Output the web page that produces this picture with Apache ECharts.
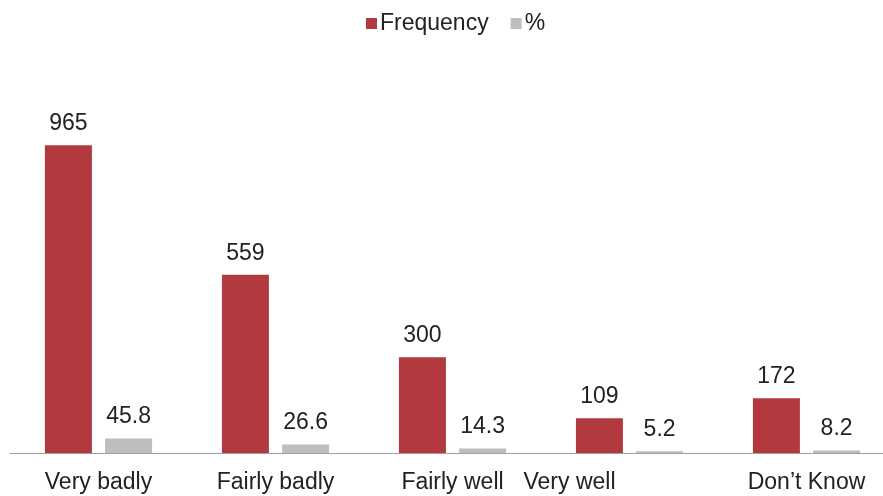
<!DOCTYPE html>
<html><head><meta charset="utf-8">
<script src="https://cdn.jsdelivr.net/npm/echarts@6/dist/echarts.min.js"></script>
<style>html,body{margin:0;padding:0;background:#fff}#c{width:883px;height:496px}</style>
</head><body><div id="c"></div>
<script>
const categories = ['Very badly', 'Fairly badly', 'Fairly well', 'Very well', 'Don\u2019t Know'];
const frequency = [965, 559, 300, 109, 172];
const percent = [45.8, 26.6, 14.3, 5.2, 8.2];
const seriesNames = ['Frequency', '%'];

const chart = echarts.init(document.getElementById('c'));
const font = 'Liberation Sans';
chart.setOption({
  animation: false,
  textStyle: { fontFamily: font },
  legend: {
    top: 7, left: 361, itemWidth: 11, itemHeight: 11, itemGap: 22,
    icon: 'rect',
    textStyle: { fontSize: 23, color: '#222', fontFamily: font, padding: [0, 0, 0, -2] },
    data: seriesNames
  },
  grid: { left: 10, width: 885, top: 134, bottom: 43, outerBoundsMode: 'none', containLabel: false },
  xAxis: {
    type: 'category', data: categories,
    axisLine: { lineStyle: { color: '#a0a0a0', width: 1 } },
    axisTick: { show: false },
    axisLabel: {
      fontSize: 23, color: '#222', margin: 18, fontFamily: font,
      formatter: function (v) { return v === 'Very well' ? '{s|' + v + '}' : v; },
      rich: { s: { fontSize: 23, color: '#222', fontFamily: font, padding: [0, 120, 0, 0] } }
    }
  },
  yAxis: { type: 'value', min: 0, max: 1000, show: false, splitLine: { show: false } },
  series: [
    { name: seriesNames[0], type: 'bar', data: frequency, barWidth: 47, barGap: '28%',
      itemStyle: { color: '#B23A3E' },
      label: { show: true, position: 'top', distance: 10, fontSize: 23, color: '#222', fontFamily: font } },
    { name: seriesNames[1], type: 'bar', data: percent, barWidth: 47,
      itemStyle: { color: '#BEBEBE' },
      label: { show: true, position: 'top', distance: 10, fontSize: 23, color: '#222', fontFamily: font } }
  ]
});
</script></body></html>
